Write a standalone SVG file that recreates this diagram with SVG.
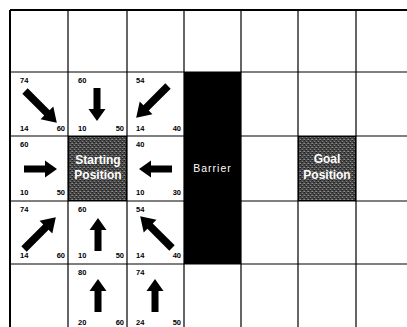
<svg xmlns="http://www.w3.org/2000/svg" width="407" height="327" viewBox="0 0 407 327">
<style>
.grid{stroke:#000;stroke-width:1.2;fill:none}
.num{font-family:"Liberation Sans",Arial,sans-serif;font-weight:bold;font-size:7.5px;fill:#000}
.end{text-anchor:end}
.arr{fill:#000}
.lbl{font-family:"Liberation Sans",Arial,sans-serif;font-weight:bold;font-size:12px;fill:#fff;text-anchor:middle}
.bar{font-family:"Liberation Sans",Arial,sans-serif;font-size:10.5px;fill:#fff;text-anchor:middle;letter-spacing:1px}
</style>
<defs>
<path id="st" d="M0,-3.5 H21 V-8.5 L33,0 L21,8.5 V3.5 H0 Z"/>
<path id="dg" d="M0,-3.8 H31 V-9 L45,0 L31,9 V3.8 H0 Z"/>
<pattern id="noise" width="4" height="4" patternUnits="userSpaceOnUse">
<rect width="4" height="4" fill="#4a4a4a"/>
<rect x="0" y="0" width="1" height="1" fill="#1e1e1e"/>
<rect x="2" y="1" width="1" height="1" fill="#808080"/>
<rect x="1" y="2" width="1" height="1" fill="#2a2a2a"/>
<rect x="3" y="3" width="1" height="1" fill="#6e6e6e"/>
<rect x="3" y="0" width="1" height="1" fill="#3a3a3a"/>
<rect x="0" y="3" width="1" height="1" fill="#909090"/>
<rect x="2" y="2" width="1" height="1" fill="#262626"/>
</pattern>
</defs>
<rect width="407" height="327" fill="#fff"/>
<g id="grid" class="grid">
<path d="M10,10 H407 M10,72 H407 M10,136 H407 M10,201 H407 M10,264 H407"/>
<path d="M10,10 V327 M68,10 V327 M127,10 V327 M184,10 V327 M241,10 V327 M298,10 V327 M356,10 V327"/>
<path d="M10,10 H407 M10,10 V327" stroke-width="2"/>
</g>
<g id="barrier">
<rect x="184" y="72" width="57" height="192" fill="#000"/>
<text class="bar" x="212.5" y="172">Barrier</text>
</g>
<g id="start">
<rect x="68.5" y="136.5" width="58" height="64" fill="url(#noise)" stroke="#000"/>
<text class="lbl" x="98" y="164">Starting</text>
<text class="lbl" x="98" y="179">Position</text>
</g>
<g id="goal">
<rect x="298.5" y="136.5" width="57" height="64" fill="url(#noise)" stroke="#000"/>
<text class="lbl" x="327" y="163">Goal</text>
<text class="lbl" x="327" y="179">Position</text>
</g>
<g id="c01">
<text class="num" x="20" y="83">74</text><text class="num" x="20" y="131">14</text><text class="num end" x="65" y="131">60</text>
<use href="#dg" class="arr" transform="translate(25,91) rotate(45)"/>
</g>
<g id="c11">
<text class="num" x="78" y="83">60</text><text class="num" x="78" y="131">10</text><text class="num end" x="124" y="131">50</text>
<use href="#st" class="arr" transform="translate(97,88) rotate(90)"/>
</g>
<g id="c21">
<text class="num" x="136" y="83">54</text><text class="num" x="136" y="131">14</text><text class="num end" x="181" y="131">40</text>
<use href="#dg" class="arr" transform="translate(168,86) rotate(135)"/>
</g>
<g id="c02">
<text class="num" x="20" y="147">60</text><text class="num" x="20" y="195">10</text><text class="num end" x="65" y="195">50</text>
<use href="#st" class="arr" transform="translate(24,169)"/>
</g>
<g id="c22">
<text class="num" x="136" y="147">40</text><text class="num" x="136" y="195">10</text><text class="num end" x="181" y="195">30</text>
<use href="#st" class="arr" transform="translate(172,169) rotate(180)"/>
</g>
<g id="c03">
<text class="num" x="20" y="212">74</text><text class="num" x="20" y="258">14</text><text class="num end" x="65" y="258">60</text>
<use href="#dg" class="arr" transform="translate(24,249) rotate(-45)"/>
</g>
<g id="c13">
<text class="num" x="78" y="212">60</text><text class="num" x="78" y="258">10</text><text class="num end" x="124" y="258">50</text>
<use href="#st" class="arr" transform="translate(98,251) rotate(-90)"/>
</g>
<g id="c23">
<text class="num" x="136" y="212">54</text><text class="num" x="136" y="258">14</text><text class="num end" x="181" y="258">40</text>
<use href="#dg" class="arr" transform="translate(172,248) rotate(-135)"/>
</g>
<g id="c14">
<text class="num" x="78" y="275">80</text><text class="num" x="78" y="325">20</text><text class="num end" x="124" y="325">60</text>
<use href="#st" class="arr" transform="translate(98,312) rotate(-90)"/>
</g>
<g id="c24">
<text class="num" x="136" y="275">74</text><text class="num" x="136" y="325">24</text><text class="num end" x="181" y="325">50</text>
<use href="#st" class="arr" transform="translate(155,312) rotate(-90)"/>
</g>
</svg>
